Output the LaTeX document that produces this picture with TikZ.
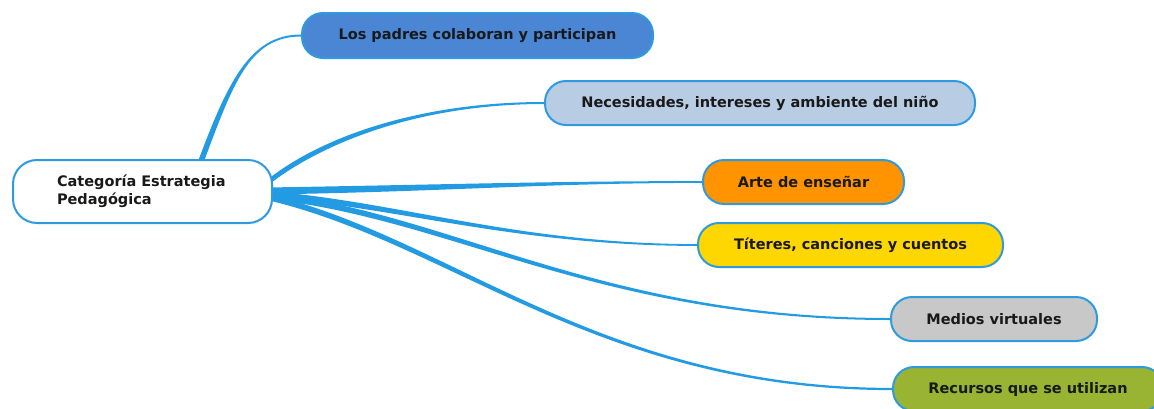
\documentclass[tikz,border=0pt]{standalone}
\usepackage{fontspec}
\setmainfont{DejaVu Sans}
\usetikzlibrary{backgrounds}
\definecolor{edgeblue}{HTML}{2E9BE0}
\definecolor{connblue}{HTML}{239BE2}
\definecolor{cOne}{HTML}{4A86D4}
\definecolor{cTwo}{HTML}{B8CCE4}
\definecolor{cThree}{HTML}{FF9400}
\definecolor{cFour}{HTML}{FFD700}
\definecolor{cFive}{HTML}{C8C8C8}
\definecolor{cSix}{HTML}{99B433}
\newcommand\taperconn[8]{%
  \fill[conn] ([shift={#5}]#1) .. controls +#2 and +#3 .. ([shift={#7}]#4)
    -- ([shift={#8}]#4) .. controls +#3 and +#2 .. ([shift={#6}]#1) -- cycle;}
\begin{document}
\begin{tikzpicture}[x=1pt,y=-1pt,
  box/.style={draw=edgeblue,line width=2pt,rounded corners=21pt,minimum height=44pt,
    inner sep=0pt,font=\fontsize{14.5}{18}\selectfont\bfseries,text=black!90},
  conn/.style={fill=connblue,draw=none}]
\useasboundingbox (0,0) rectangle (1154,408);
\node[box,fill=white,minimum width=259pt,minimum height=63pt,rounded corners=24pt,
  text width=171pt,align=left] (C) at (142.5,191.5)
  {\mbox{Categoría Estrategia}\\\mbox{Pedagógica}};
\node[box,fill=cOne,minimum width=351pt,minimum height=45pt] (N1) at (477.5,35.5) {Los padres colaboran y participan};
\node[box,fill=cTwo,minimum width=430pt] (N2) at (760,103) {Necesidades, intereses y ambiente del niño};
\node[box,fill=cThree,minimum width=201pt] (N3) at (803.5,182) {Arte de enseñar};
\node[box,fill=cFour,minimum width=305pt] (N4) at (850.5,245) {Títeres, canciones y cuentos};
\node[box,fill=cFive,minimum width=206pt] (N5) at (994,319) {Medios virtuales};
\node[box,fill=cSix,minimum width=270pt] (N6) at (1028,389) {Recursos que se utilizan};
\coordinate (s1) at ([shift={(57.5,5)}]C.north);
\coordinate (s2) at ([shift={(-6,-8.5)}]C.east);
\coordinate (s3) at ([shift={(-6,-0.5)}]C.east);
\coordinate (s4) at ([shift={(-6,2.5)}]C.east);
\coordinate (s5) at ([shift={(-6,4.5)}]C.east);
\coordinate (s6) at ([shift={(-6,5.5)}]C.east);
\begin{scope}[on background layer]
\taperconn{s1}{(30,-80)}{(-52,0)}{N1.west}{(-3,0)}{(3,0)}{(0,-1)}{(0,1)}
\taperconn{s2}{(54,-43)}{(-125,0)}{N2.west}{(0,-3)}{(0,3)}{(0,-1)}{(0,1)}
\taperconn{s3}{(184,-3)}{(-153,0)}{N3.west}{(0,-3.5)}{(0,3.5)}{(0,-0.9)}{(0,0.9)}
\taperconn{s4}{(134,11)}{(-178,0)}{N4.west}{(0,-3)}{(0,3)}{(0,-0.9)}{(0,0.9)}
\taperconn{s5}{(184,19)}{(-291,0)}{N5.west}{(0,-3)}{(0,3)}{(0,-1)}{(0,1)}
\taperconn{s6}{(184,43)}{(-293,0)}{N6.west}{(0,-3)}{(0,3)}{(0,-1.1)}{(0,1.1)}
\end{scope}
\end{tikzpicture}
\end{document}
